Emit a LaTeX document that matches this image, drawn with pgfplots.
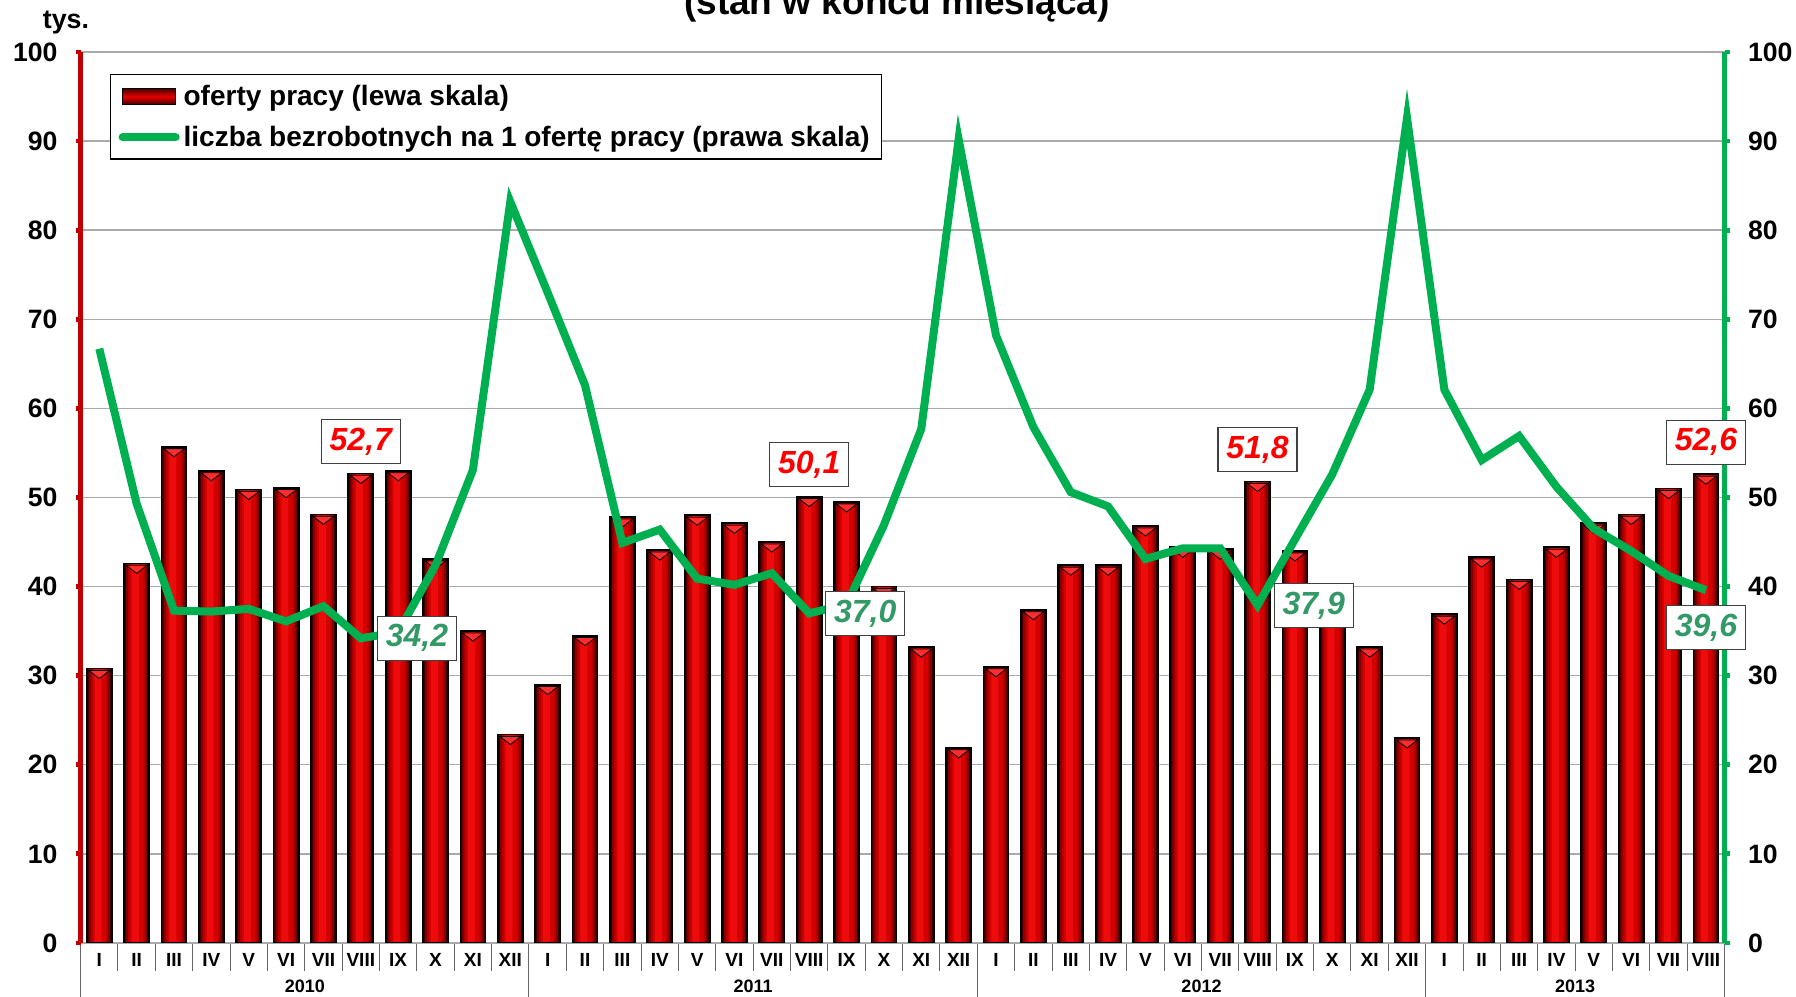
\documentclass[border=0pt]{standalone}
\usepackage{pgfplots}
\usepackage{pgfplotstable}
\pgfplotsset{compat=1.18}
\usepackage{fontspec}
\setmainfont{Liberation Sans}
\definecolor{axred}{RGB}{192,0,0}
\definecolor{lgreen}{RGB}{0,176,80}
\definecolor{lblgreen}{RGB}{51,153,102}
\definecolor{barmid}{RGB}{230,0,0}
\definecolor{baredge}{RGB}{70,0,0}
\definecolor{barA}{RGB}{60,0,0}
\definecolor{barB}{RGB}{130,0,0}
\definecolor{barC}{RGB}{180,0,0}
\definecolor{barD}{RGB}{212,0,0}
\definecolor{barE}{RGB}{236,12,12}
\definecolor{bartri}{RGB}{255,45,45}
\definecolor{gridgray}{RGB}{170,170,170}
\newcommand\fs[1]{\fontsize{#1}{#1}\selectfont}

\pgfplotstableread{
x bar line
0 30.8 66.7
1 42.6 49.3
2 55.7 37.3
3 53.0 37.2
4 50.9 37.5
5 51.1 36.1
6 48.1 37.8
7 52.7 34.2
8 53.0 34.9
9 43.1 42.4
10 35.0 53.1
11 23.4 83.2
12 29.0 73.0
13 34.5 62.6
14 47.8 44.9
15 44.1 46.4
16 48.0 40.9
17 47.1 40.2
18 45.0 41.5
19 50.1 37.0
20 49.5 38.0
21 40.0 46.9
22 33.2 57.7
23 21.9 90.2
24 31.0 68.2
25 37.4 57.9
26 42.4 50.6
27 42.4 49.0
28 46.8 43.1
29 44.4 44.3
30 44.2 44.3
31 51.8 37.9
32 44.0 45.3
33 37.0 52.6
34 33.2 62.1
35 23.0 92.6
36 36.9 62.1
37 43.3 54.2
38 40.8 56.9
39 44.4 51.2
40 47.1 46.5
41 48.1 44.0
42 51.0 41.2
43 52.6 39.6
}\datatable

\pgfplotsset{
  common/.style={
    at={(40.3pt,27pt)}, anchor=south west,
    scale only axis, width=822pt, height=445.5pt,
    xmin=-0.5, xmax=43.5, ymin=0, ymax=100,
    /pgf/number format/assume math mode=true,
  },
}
\tikzset{lbl/.style={draw=black!75, fill=white, line width=0.6pt,
  font=\bfseries\itshape\fs{16}, minimum width=39.5pt, minimum height=22pt, inner sep=0pt}}

\begin{document}
\begin{tikzpicture}
% separators and years
\begin{axis}[common, clip=false,
  axis x line*=bottom, axis y line=none,
  x axis line style={draw=black!55, line width=0.6pt},
  xtick={-0.5,11.5,23.5,35.5,43.5}, xticklabels={},
  minor xtick={0.5,1.5,...,42.5},
  major tick length=27pt, minor tick length=14pt, tick align=outside,
  xtick style={draw=black!60, line width=0.5pt},
]
\addplot[draw=none] coordinates {(0,0)};
\node[font=\bfseries\fs{9}] at (axis cs:5.5,0) [yshift=-21.5pt] {2010};
\node[font=\bfseries\fs{9}] at (axis cs:17.5,0) [yshift=-21.5pt] {2011};
\node[font=\bfseries\fs{9}] at (axis cs:29.5,0) [yshift=-21.5pt] {2012};
\node[font=\bfseries\fs{9}] at (axis cs:39.5,0) [yshift=-21.5pt] {2013};
\end{axis}
% bars, left axis labels
\begin{axis}[common,
  axis x line*=bottom, axis y line*=left,
  x axis line style={draw=none},
  y axis line style={draw=none},
  xtick={0,...,43},
  xticklabels={I,II,III,IV,V,VI,VII,VIII,IX,X,XI,XII,I,II,III,IV,V,VI,VII,VIII,IX,X,XI,XII,I,II,III,IV,V,VI,VII,VIII,IX,X,XI,XII,I,II,III,IV,V,VI,VII,VIII},
  xtick style={draw=none},
  xticklabel style={font=\bfseries\fs{9.5}, yshift=1pt},
  ytick={0,10,...,100},
  ytick style={draw=none},
  major tick length=2.5pt, tick align=outside,
  yticklabel style={font=\bfseries\fs{13.3}, xshift=-5.5pt},
  ymajorgrids, grid style={draw=gridgray, line width=0.7pt},
]
\addplot[ybar, bar width=12.5pt, draw=none, fill=barA] table[x=x, y=bar] {\datatable};
\addplot[ybar, bar width=10.5pt, draw=none, fill=barB] table[x=x, y=bar] {\datatable};
\addplot[ybar, bar width=8.5pt, draw=none, fill=barC] table[x=x, y=bar] {\datatable};
\addplot[ybar, bar width=6.5pt, draw=none, fill=barD] table[x=x, y=bar] {\datatable};
\addplot[ybar, bar width=3.5pt, bar shift=-0.6pt, draw=none, fill=barE] table[x=x, y=bar] {\datatable};
\addplot[ybar, bar width=12.5pt, draw=black, line width=0.9pt, fill=none] table[x=x, y=bar] {\datatable};
\addplot[only marks, mark=triangle*, mark size=6.0pt,
  mark options={draw=none, fill=bartri, yshift=-2.3pt, rotate=180, yscale=0.45}]
  table[x=x, y=bar] {\datatable};
\end{axis}
% line, right axis
\begin{axis}[common, clip=false,
  axis x line=none, axis y line*=right,
  y axis line style={draw=lgreen, line width=2.8pt},
  ytick={0,10,...,100},
  ytick style={draw=lgreen, line width=2.4pt},
  major tick length=2.5pt, tick align=outside,
  yticklabel style={font=\bfseries\fs{13.3}, xshift=5.7pt},
  legend style={at={(0.0179,0.975)}, anchor=north west, draw=black, line width=0.6pt,
    fill=white, font=\bfseries\fs{14}, inner xsep=4pt, inner ysep=3pt, row sep=4.8pt},
  legend cell align=left,
]
\addlegendimage{legend image code/.code={%
  \draw[black, line width=0.8pt, top color=baredge, bottom color=baredge, middle color=barmid]
  (2pt,-4pt) rectangle (28.5pt,4pt);}}
\addlegendentry{oferty pracy (lewa skala)}
\addplot[lgreen, line width=4pt, mark=none,
  legend image code/.code={\draw[lgreen, line width=4pt, line cap=round] (2pt,0pt) -- (28.5pt,0pt);}]
  table[x=x, y=line] {\datatable};
\addlegendentry{liczba bezrobotnych na 1 ofertę pracy (prawa skala)}
\node[lbl, text=red, anchor=south, yshift=4.75pt] at (axis cs:7,52.7) {52,7};
\node[lbl, text=red, anchor=south, yshift=4.75pt] at (axis cs:19,50.1) {50,1};
\node[lbl, text=red, anchor=south, yshift=4.75pt] at (axis cs:31,51.8) {51,8};
\node[lbl, text=red, anchor=south, yshift=4.75pt] at (axis cs:43,52.6) {52,6};
\node[lbl, text=lblgreen, anchor=west, xshift=8pt] at (axis cs:7,34.2) {34,2};
\node[lbl, text=lblgreen, anchor=west, xshift=8pt] at (axis cs:19,37.0) {37,0};
\node[lbl, text=lblgreen, anchor=west, xshift=8pt] at (axis cs:31,37.9) {37,9};
\node[lbl, text=lblgreen, anchor=north, yshift=-7.5pt] at (axis cs:43,39.6) {39,6};
\end{axis}
% red left axis line, drawn last
\begin{axis}[common,
  axis x line=none, axis y line*=left,
  y axis line style={draw=axred, line width=2.8pt},
  ytick={0,10,...,100}, yticklabels={},
  ytick style={draw=axred, line width=2.4pt},
  major tick length=2.5pt, tick align=outside,
]
\addplot[draw=none] coordinates {(0,0)};
\end{axis}
\node[font=\bfseries\fs{18.5}, anchor=base] at (448.5pt,491pt) {(stan w końcu miesiąca)};
\node[font=\bfseries\fs{13.4}, anchor=base] at (33pt,484pt) {tys.};
\pgfresetboundingbox
\path[use as bounding box] (0,0) rectangle (898pt,498.5pt);
\end{tikzpicture}
\end{document}
